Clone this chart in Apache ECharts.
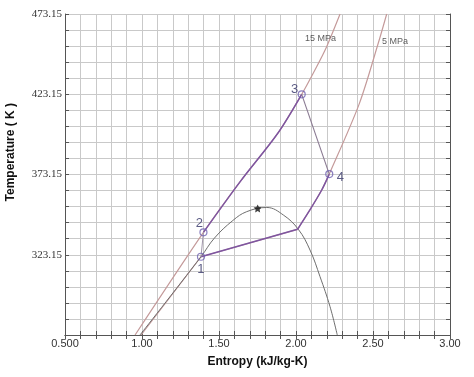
<!DOCTYPE html>
<html>
<head>
<meta charset="utf-8">
<script src="https://cdn.jsdelivr.net/npm/echarts@6/dist/echarts.min.js"></script>
<style>
html,body{margin:0;padding:0;background:#fff;}
#chart{width:474px;height:377px;}
</style>
</head>
<body>
<div id="chart"></div>
<script>
// ---- data (entropy kJ/kg-K, temperature K) ----
const T0 = 273.15;
const xTickLabels = ['0.500', '1.00', '1.50', '2.00', '2.50', '3.00'];
const yTickLabels = ['323.15', '373.15', '423.15', '473.15'];

const isobar15S = [0.955, 1.399, 1.64, 1.883, 2.037, 2.134, 2.199, 2.286];
const isobar15T = [273.15, 337.1, 369.0, 399.0, 423.1, 440.3, 452.8, 473.15];

// 5 MPa: liquid + two-phase part, then superheated part
const isobar5LiqS = [0.994, 1.383, 2.010];
const isobar5LiqT = [273.15, 321.9, 339.0];
const isobar5VapS = [2.010, 2.080, 2.167, 2.216, 2.410, 2.534, 2.589];
const isobar5VapT = [339.0, 349.5, 363.5, 373.4, 417.0, 454.9, 473.15];

const domeS = [0.987, 1.383, 1.470, 1.590, 1.680, 1.810, 1.918, 2.015, 2.091, 2.156, 2.221, 2.268];
const domeT = [273.15, 321.9, 333.5, 344.5, 350.0, 352.6, 347.9, 339.0, 326.1, 309.5, 290.8, 273.15];

// cycle: 2 -> 3 heating (15 MPa), 4 -> kink -> 1 cooling (5 MPa)
const heatS = [1.399, 1.64, 1.883, 2.037];
const heatT = [337.1, 369.0, 399.0, 423.1];
const coolVapS = [2.216, 2.167, 2.080, 2.010];
const coolVapT = [373.4, 363.5, 349.5, 339.0];
const coolTwoS = [2.010, 1.383];
const coolTwoT = [339.0, 321.9];

const stateNames = ['1', '2', '3', '4'];
const stateS = [1.383, 1.399, 2.037, 2.216];
const stateT = [321.9, 337.1, 423.1, 373.4];

const critS = [1.751];
const critT = [352.0];

const isobarNames = ['15 MPa', '5 MPa'];
const isobarLabelS = [2.058, 2.558];
const isobarLabelT = [457.6, 455.7];

// ---- helpers ----
const pts = (S, T) => S.map((s, i) => [s, T[i] - T0]);
const labelOffsets = [[0, 13], [-4, -9], [-7, -5], [11, 3]];

const chart = echarts.init(document.getElementById('chart'), null, {renderer: 'canvas'});

const gridLine = {show: true, lineStyle: {color: '#c9c9c9', width: 1}};
const axisLine = {show: true, lineStyle: {color: '#555', width: 1}};
const tick = {show: true, inside: true, length: 4, lineStyle: {color: '#555'}};
const isoStyle = {color: '#c49a9a', width: 1.2};
const cycStyle = {color: '#7e55a0', width: 1.5};

const option = {
  backgroundColor: '#fff',
  animation: false,
  grid: {left: 65, top: 14, right: 24, bottom: 42, containLabel: false},
  xAxis: [{
    type: 'value', min: 0.5, max: 3.0, interval: 0.1,
    name: 'Entropy (kJ/kg-K)', nameLocation: 'middle', nameGap: 21,
    nameTextStyle: {fontFamily: 'Liberation Sans, Arial', fontWeight: 'bold', fontSize: 12, color: '#111'},
    axisLine: axisLine, axisTick: tick, splitLine: gridLine,
    axisLabel: {
      margin: 3, fontFamily: 'Liberation Sans, Arial', fontSize: 11, color: '#333',
      formatter: v => { const k = Math.round(v * 10); return k % 5 === 0 ? xTickLabels[(k - 5) / 5] : ''; }
    }
  }, {
    type: 'value', min: 0.5, max: 3.0, interval: 0.1, position: 'top',
    axisLine: axisLine, axisTick: tick, splitLine: {show: false}, axisLabel: {show: false}
  }],
  yAxis: [{
    type: 'value', min: 0, max: 200, interval: 10,
    axisLine: axisLine, axisTick: tick, splitLine: gridLine,
    axisLabel: {
      margin: 3, fontFamily: 'Liberation Serif, Times New Roman', fontSize: 11, color: '#333',
      formatter: v => { const k = Math.round(v); return (k % 50 === 0 && k > 0) ? yTickLabels[k / 50 - 1] : ''; }
    }
  }, {
    type: 'value', min: 0, max: 200, interval: 10, position: 'right',
    axisLine: axisLine, axisTick: tick, splitLine: {show: false}, axisLabel: {show: false}
  }],
  graphic: [{
    type: 'text', left: 5, top: 103, rotation: Math.PI / 2,
    style: {text: 'Temperature ( K )', font: 'bold 12px "Liberation Sans", Arial', fill: '#111'}
  }],
  series: [
    {type: 'line', name: '15 MPa', data: pts(isobar15S, isobar15T), smooth: 0.3, symbol: 'none',
     lineStyle: isoStyle, z: 2},
    {type: 'line', name: '5 MPa liquid', data: pts(isobar5LiqS, isobar5LiqT), symbol: 'none',
     lineStyle: isoStyle, z: 2},
    {type: 'line', name: '5 MPa vapour', data: pts(isobar5VapS, isobar5VapT), smooth: 0.3, symbol: 'none',
     lineStyle: isoStyle, z: 2},
    {type: 'line', name: 'dome', data: pts(domeS, domeT), smooth: 0.4, symbol: 'none',
     lineStyle: {color: '#6e6e6e', width: 1}, z: 3},
    {type: 'line', name: 'heat', data: pts(heatS, heatT), smooth: 0.3, symbol: 'none',
     lineStyle: cycStyle, z: 4},
    {type: 'line', name: 'cool vapour', data: pts(coolVapS, coolVapT), smooth: 0.3, symbol: 'none',
     lineStyle: cycStyle, z: 4},
    {type: 'line', name: 'cool two-phase', data: pts(coolTwoS, coolTwoT), symbol: 'none',
     lineStyle: cycStyle, z: 4},
    {type: 'line', name: 'pump', data: pts([stateS[0], stateS[1]], [stateT[0], stateT[1]]), symbol: 'none',
     lineStyle: {color: '#a095aa', width: 1}, z: 4},
    {type: 'line', name: 'expand', data: pts([stateS[2], stateS[3]], [stateT[2], stateT[3]]), symbol: 'none',
     lineStyle: {color: '#8a7a92', width: 1.1}, z: 4},
    {type: 'scatter', name: 'states', z: 6,
     symbol: 'circle', symbolSize: 7,
     itemStyle: {color: 'rgba(255,255,255,0)', borderColor: '#6f62b0', borderWidth: 1.2},
     data: stateS.map((s, i) => ({
       value: [s, stateT[i] - T0], name: stateNames[i],
       label: {show: true, formatter: stateNames[i], position: 'inside', offset: labelOffsets[i],
               fontFamily: 'Liberation Sans, Arial', fontSize: 13, color: '#333366'}
     }))},
    {type: 'scatter', name: 'critical', z: 6, symbol: 'path://M0,-10 L2.9,-4 L9.5,-3.1 L4.7,1.5 L5.9,8.1 L0,5 L-5.9,8.1 L-4.7,1.5 L-9.5,-3.1 L-2.9,-4 Z',
     symbolSize: 8, itemStyle: {color: '#111'}, data: pts(critS, critT)},
    {type: 'scatter', name: 'isobarLabels', z: 6, symbolSize: 0,
     data: isobarLabelS.map((s, i) => ({
       value: [s, isobarLabelT[i] - T0],
       label: {show: true, formatter: isobarNames[i], position: 'right', distance: 0,
               fontFamily: 'Liberation Sans, Arial', fontSize: 9, color: '#333'}
     }))}
  ]
};
chart.setOption(option);
</script>
</body>
</html>
